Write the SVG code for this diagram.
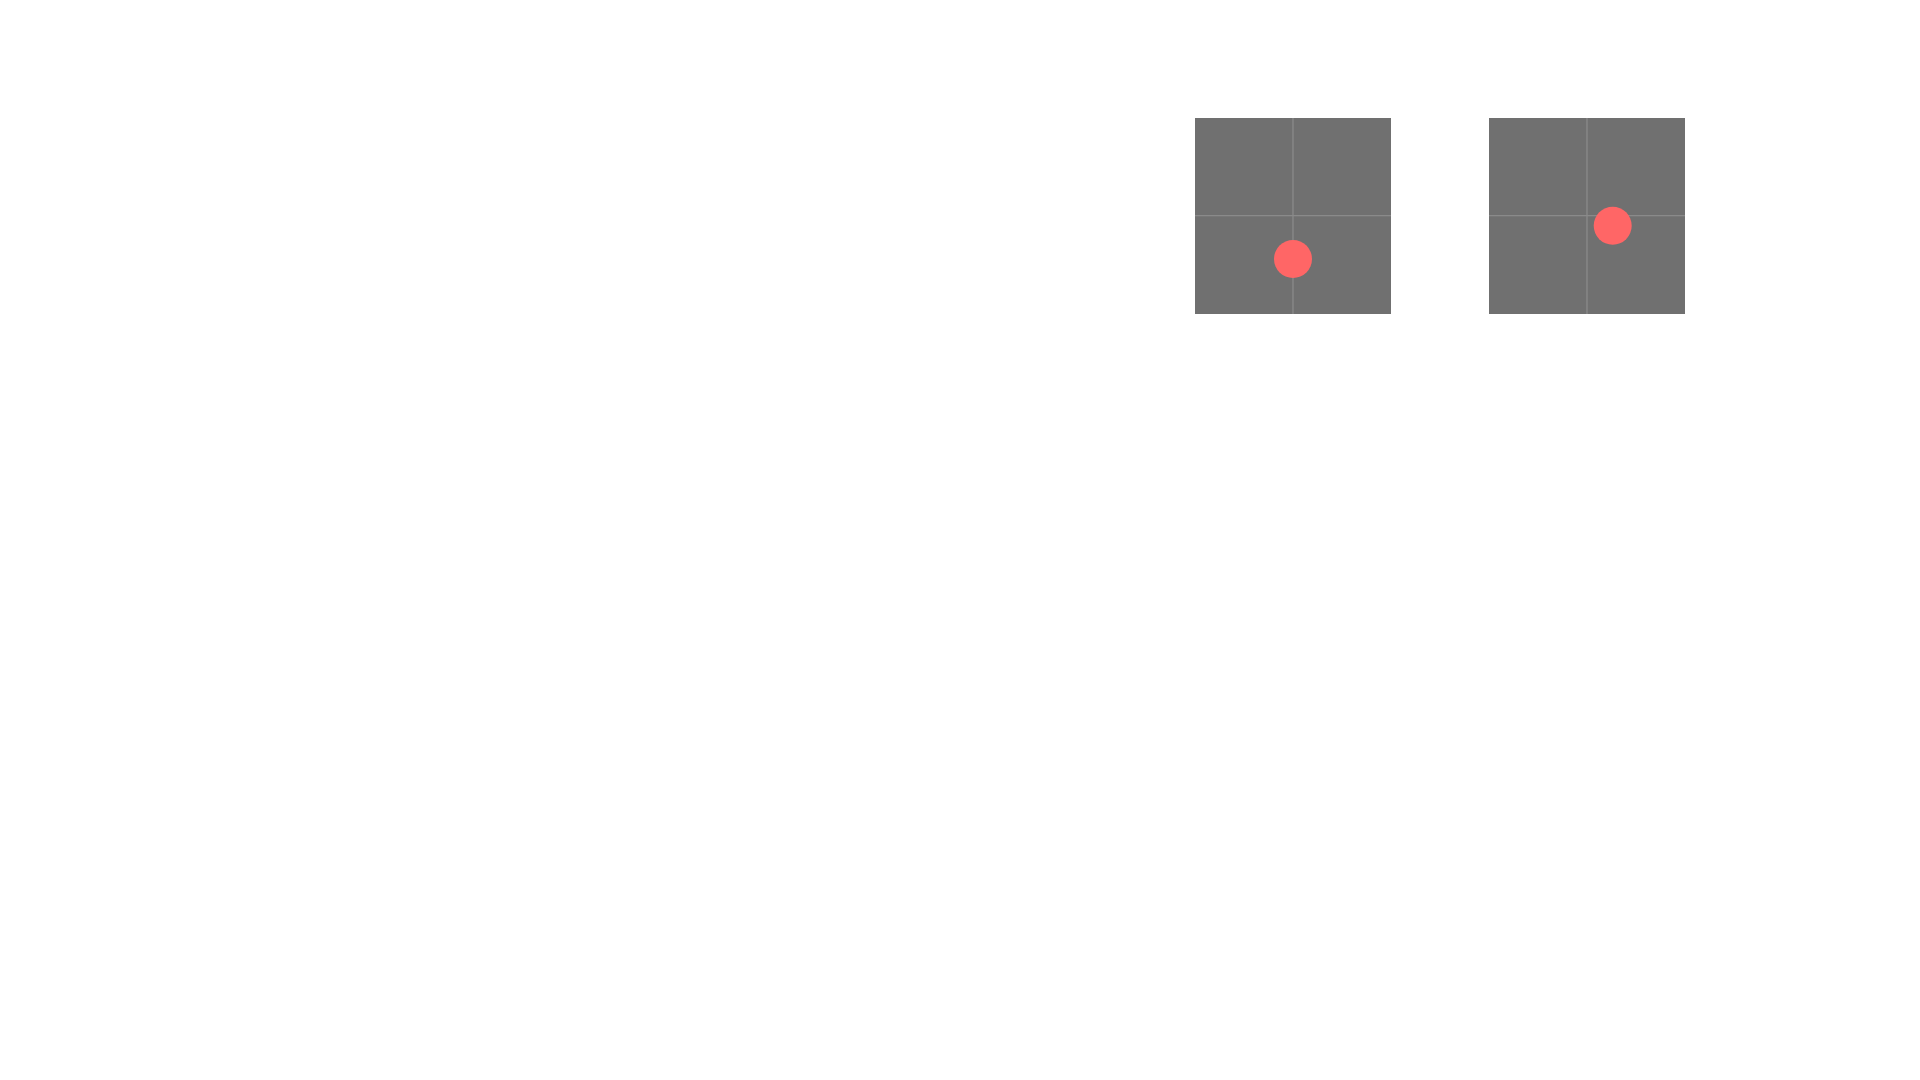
<svg xmlns="http://www.w3.org/2000/svg" width="1920" height="1080" viewBox="0 0 1920 1080">
<style>
.sq{fill:#707070}
.ax{stroke:#8a8a8a;stroke-width:1.3;fill:none}
.dot{fill:#ff6666}
</style>
<rect width="1920" height="1080" fill="#ffffff"/>
<g id="panel1">
<rect class="sq" x="1195" y="118" width="196" height="196"/>
<line class="ax" x1="1293" y1="118" x2="1293" y2="314"/>
<line class="ax" x1="1195" y1="215.7" x2="1391" y2="215.7"/>
<circle class="dot" cx="1293" cy="259" r="19"/>
</g>
<g id="panel2">
<rect class="sq" x="1489" y="118" width="196" height="196"/>
<line class="ax" x1="1587" y1="118" x2="1587" y2="314"/>
<line class="ax" x1="1489" y1="215.7" x2="1685" y2="215.7"/>
<circle class="dot" cx="1612.7" cy="225.7" r="19"/>
</g>
<g id="connectors"/>
</svg>
